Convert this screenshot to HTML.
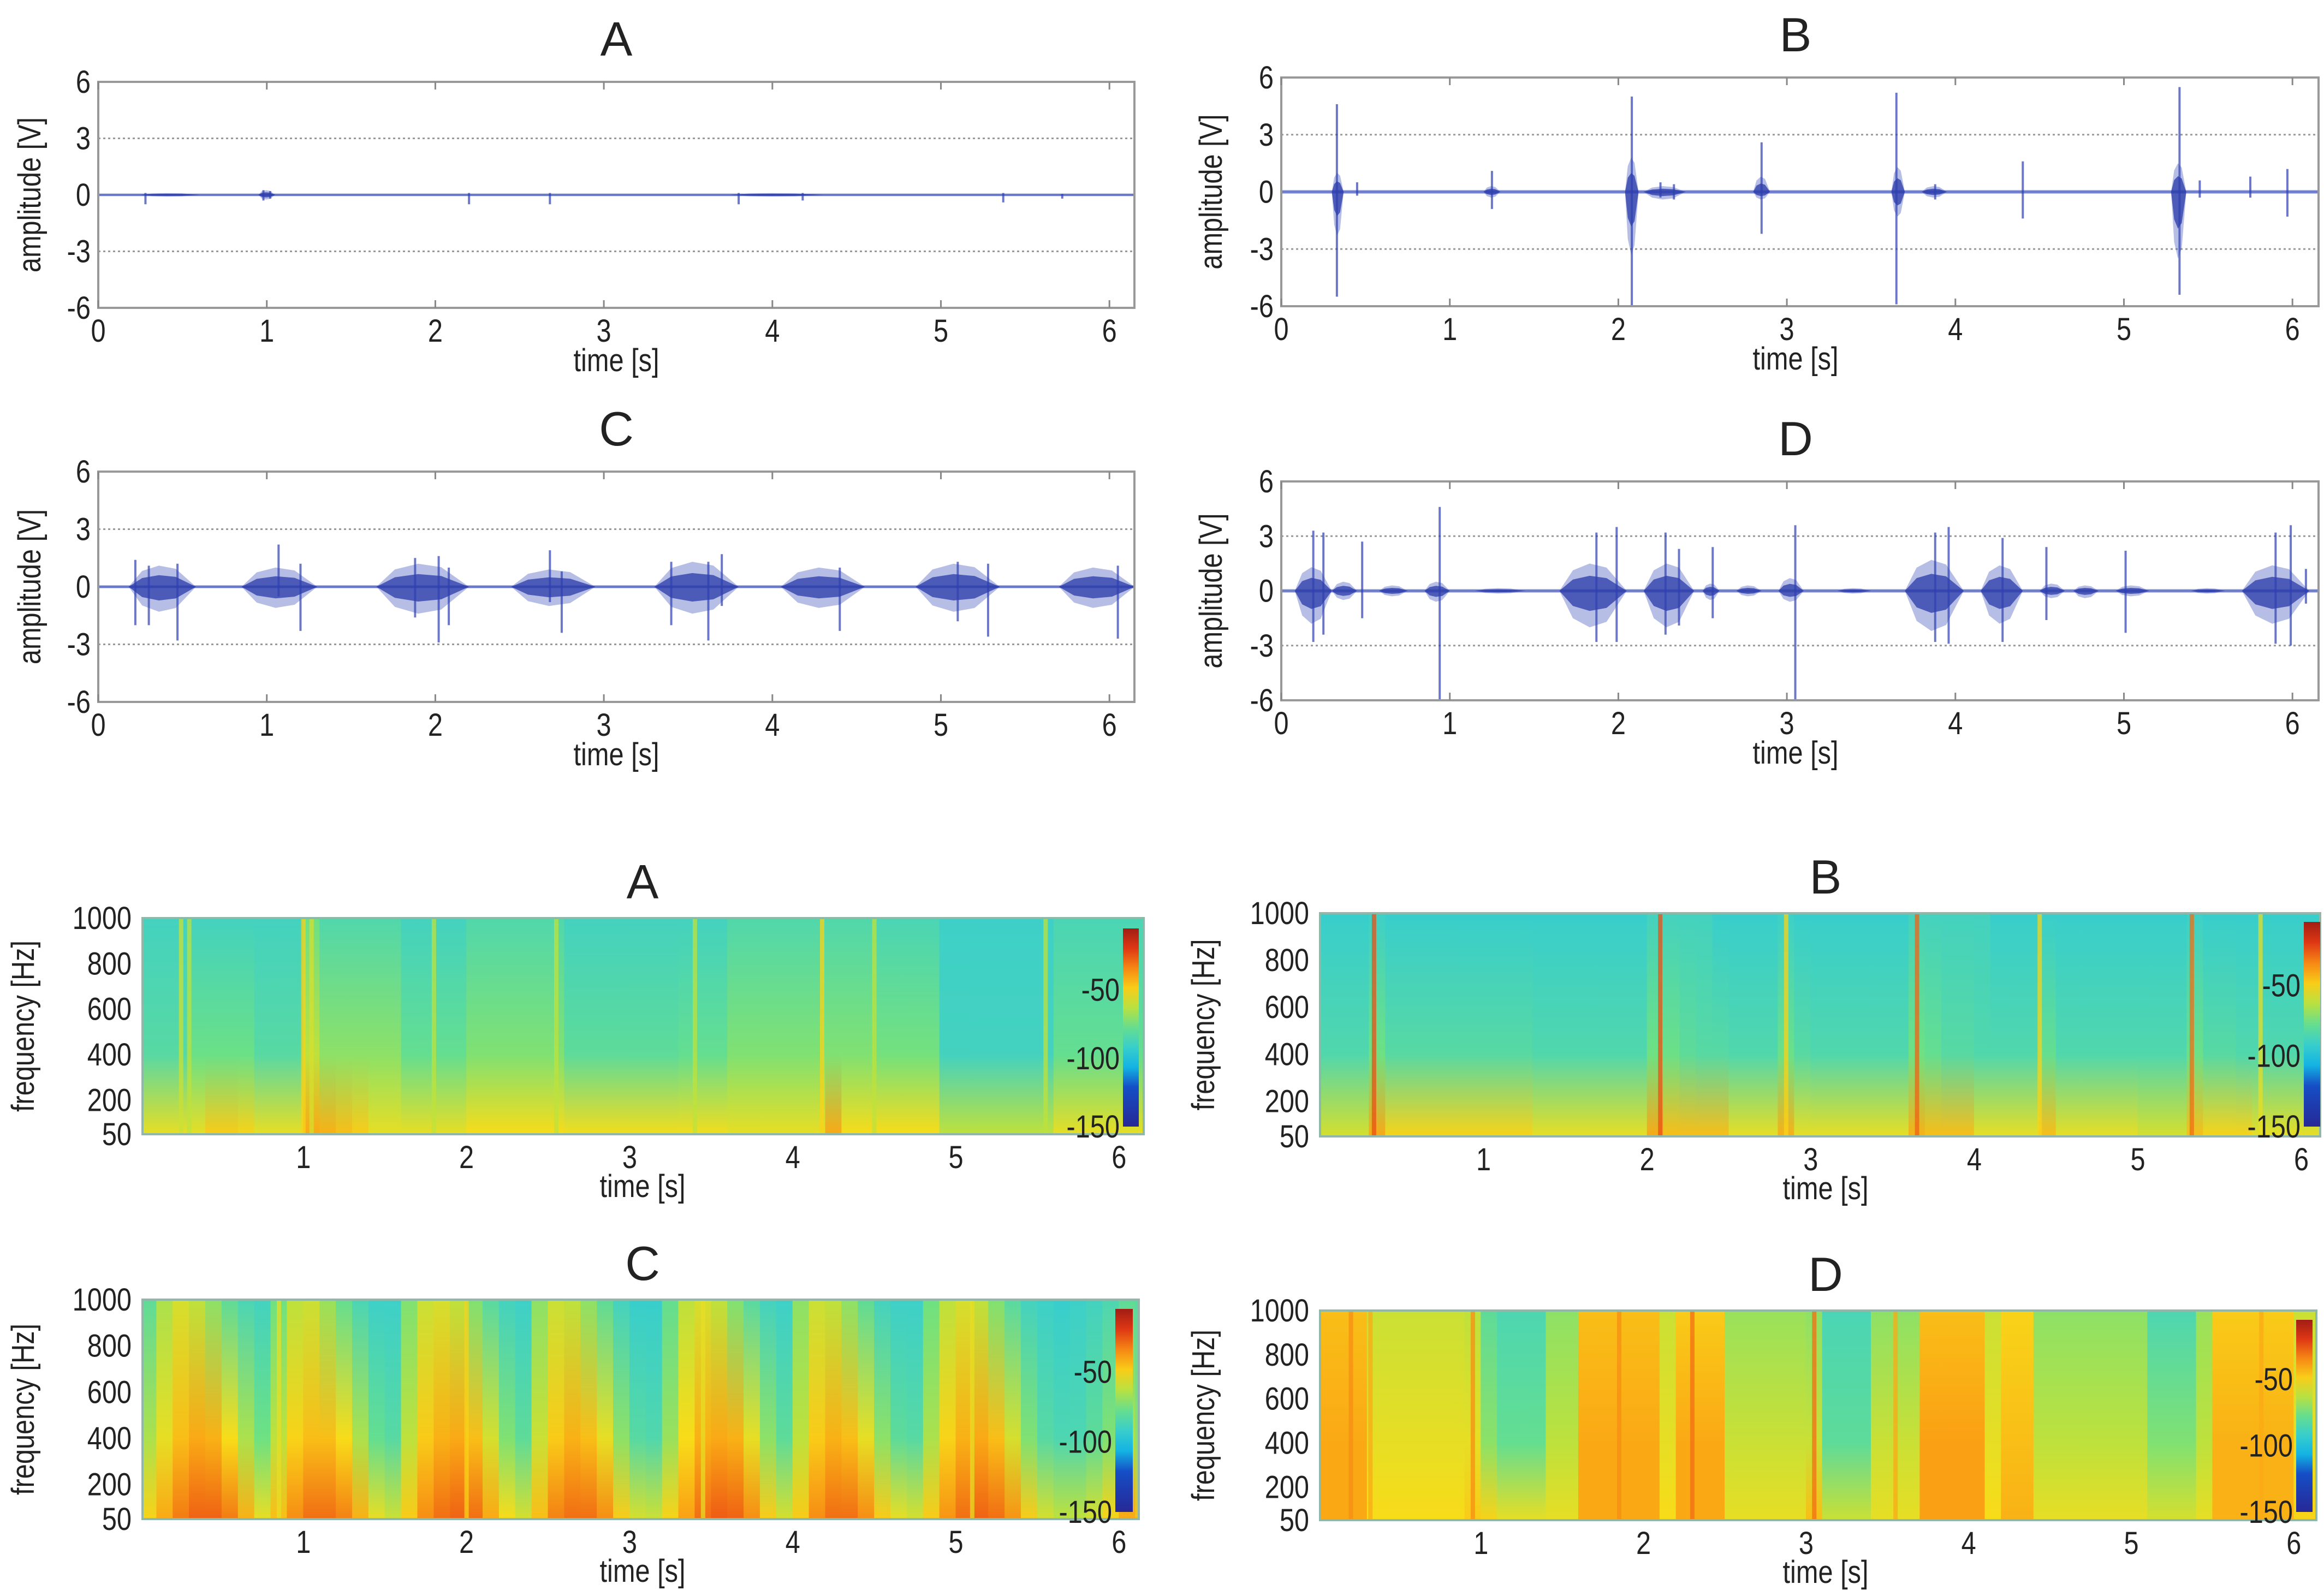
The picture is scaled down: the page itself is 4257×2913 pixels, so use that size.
<!DOCTYPE html>
<html><head><meta charset="utf-8"><style>
html,body{margin:0;padding:0;background:#fff;}
svg{display:block;}
text{font-family:"Liberation Sans",sans-serif;fill:#222;}
</style></head><body>
<svg id="fig" width="4257" height="2913" viewBox="0 0 4257 2913" xmlns="http://www.w3.org/2000/svg">
<defs id="defs"></defs>
</svg>
<script>
// ---------- waveform data: bursts [start,end,pos,neg], spikes [t,up,down] ----------
const waveTicksY = [6,3,0,-3,-6];
const waveTicksX = [0,1,2,3,4,5,6];
const burstsA = [[0,6.15,0.07,-0.07],[0.95,1.05,0.25,-0.25],[0.25,0.6,0.1,-0.1],[3.75,4.3,0.1,-0.1]];
const spikesA = [[0.28,0.1,-0.5],[0.98,0.25,-0.3],[1.02,0.2,-0.2],[2.2,0.1,-0.5],[2.68,0.1,-0.5],[3.8,0.1,-0.5],[4.18,0.1,-0.3],[5.37,0.1,-0.4],[5.72,0.05,-0.2]];
const burstsB = [[0,6.15,0.1,-0.1],[0.3,0.37,1.0,-2.3],[2.04,2.12,1.8,-3.3],[2.15,2.4,0.3,-0.4],[2.8,2.9,0.8,-0.4],[3.62,3.7,1.3,-1.3],[3.8,3.95,0.3,-0.3],[5.28,5.37,1.5,-3.5],[1.2,1.3,0.3,-0.3]];
const spikesB = [[0.33,4.6,-5.5],[0.45,0.5,-0.2],[1.25,1.1,-0.9],[2.08,5.0,-6.0],[2.25,0.5,-0.3],[2.33,0.4,-0.4],[2.85,2.6,-2.2],[3.65,5.2,-5.9],[3.88,0.4,-0.4],[4.4,1.6,-1.4],[5.33,5.5,-5.4],[5.45,0.6,-0.3],[5.75,0.8,-0.3],[5.97,1.2,-1.3]];
const burstsC = [[0,6.15,0.08,-0.08],[0.18,0.58,1.1,-1.3],[0.85,1.3,1.0,-1.1],[1.65,2.2,1.2,-1.4],[2.45,2.95,0.9,-1.0],[3.3,3.8,1.3,-1.4],[4.05,4.55,1.0,-1.1],[4.85,5.35,1.2,-1.3],[5.7,6.15,1.0,-1.1]];
const spikesC = [[0.22,1.4,-2.0],[0.3,1.1,-2.0],[0.47,1.2,-2.8],[1.07,2.2,-0.5],[1.2,1.2,-2.3],[1.88,1.5,-1.6],[2.02,1.6,-2.9],[2.08,1.0,-2.0],[2.68,1.9,-0.8],[2.75,0.8,-2.4],[3.4,1.3,-2.0],[3.62,1.3,-2.8],[3.7,1.7,-1.0],[4.4,1.0,-2.3],[5.1,1.3,-1.8],[5.28,1.2,-2.6],[6.05,1.1,-2.7]];
const burstsD = [[0,6.15,0.1,-0.1],[0.08,0.3,1.3,-1.8],[0.3,0.45,0.5,-0.5],[0.58,0.75,0.3,-0.3],[0.85,1.0,0.5,-0.6],[1.15,1.45,0.15,-0.15],[1.65,2.05,1.5,-2.0],[2.15,2.45,1.5,-2.0],[2.5,2.6,0.4,-0.5],[2.7,2.85,0.3,-0.3],[2.95,3.1,0.7,-0.6],[3.3,3.5,0.15,-0.15],[3.7,4.05,1.7,-2.2],[4.15,4.4,1.4,-1.8],[4.5,4.65,0.4,-0.4],[4.7,4.85,0.3,-0.4],[4.95,5.15,0.3,-0.3],[5.4,5.6,0.15,-0.15],[5.7,6.1,1.4,-1.8]];
const spikesD = [[0.19,3.3,-2.8],[0.25,3.2,-2.4],[0.48,2.7,-1.5],[0.94,4.6,-6.0],[1.87,3.2,-2.8],[1.99,3.5,-2.8],[2.28,3.2,-2.4],[2.36,2.3,-1.9],[2.56,2.4,-1.5],[3.05,3.6,-6.0],[3.88,3.2,-2.8],[3.96,3.5,-2.9],[4.28,2.9,-2.8],[4.54,2.4,-1.6],[5.01,2.2,-2.3],[5.90,3.2,-2.9],[5.99,3.6,-3.0],[6.08,1.2,-0.7]];

// ---------- spectrogram data: per 0.1 s column, dB at 50 Hz (lo), 400 Hz (mid), 1000 Hz (hi) ----------
const specTicksY = [1000,800,600,400,200,50];
const specTicksX = [1,2,3,4,5,6];
const cbTicks = [-50,-100,-150];
const loA = [-55,-55,-55,-55,-48,-48,-50,-55,-55,-55,-40,-42,-45,-48,-55,-55,-55,-55,-55,-55,-52,-52,-52,-52,-52,-52,-53,-53,-53,-53,-53,-53,-53,-53,-53,-53,-55,-55,-55,-55,-55,-55,-40,-52,-52,-52,-52,-52,-52,-62,-62,-62,-62,-62,-62,-62,-55,-55,-55,-55,-55,-55];
const midA = [-82,-82,-82,-76,-76,-76,-76,-82,-82,-82,-62,-70,-70,-70,-70,-70,-78,-78,-78,-78,-72,-72,-72,-72,-72,-72,-80,-80,-80,-80,-80,-80,-80,-78,-78,-78,-72,-72,-72,-72,-72,-72,-72,-72,-72,-74,-74,-74,-74,-88,-88,-88,-88,-88,-88,-88,-78,-78,-78,-78,-78,-78];
const hiA = [-88,-88,-88,-88,-88,-88,-88,-88,-88,-88,-76,-84,-84,-84,-84,-84,-88,-88,-88,-88,-84,-84,-84,-84,-84,-84,-88,-88,-88,-88,-88,-88,-88,-88,-88,-88,-84,-84,-84,-84,-84,-84,-84,-84,-84,-86,-86,-86,-86,-90,-90,-90,-90,-90,-90,-90,-86,-86,-86,-86,-86,-86];
const loB = [-58,-58,-58,-40,-50,-50,-50,-50,-50,-50,-50,-50,-50,-55,-55,-55,-55,-55,-55,-55,-40,-45,-45,-45,-45,-55,-55,-55,-42,-55,-55,-55,-55,-55,-55,-55,-42,-45,-45,-45,-55,-55,-55,-55,-45,-55,-55,-55,-55,-55,-58,-58,-58,-45,-50,-50,-50,-55,-55,-55,-55,-55];
const midB = [-84,-84,-84,-75,-82,-82,-82,-82,-82,-82,-82,-82,-82,-84,-84,-84,-84,-84,-84,-84,-75,-76,-80,-82,-82,-84,-84,-84,-76,-82,-84,-84,-84,-84,-84,-84,-75,-78,-82,-82,-84,-84,-84,-84,-78,-84,-84,-84,-84,-84,-84,-84,-84,-76,-82,-82,-84,-84,-84,-84,-84,-84];
const hiB = [-92,-92,-92,-90,-92,-92,-92,-92,-92,-92,-92,-92,-92,-92,-92,-92,-92,-92,-92,-92,-88,-88,-88,-88,-92,-92,-92,-92,-90,-92,-92,-92,-92,-92,-92,-92,-88,-88,-88,-88,-88,-92,-92,-92,-92,-92,-92,-92,-92,-92,-92,-92,-92,-90,-92,-92,-92,-92,-92,-92,-92,-92];
const loC = [-50,-40,-32,-28,-28,-32,-42,-55,-45,-35,-30,-30,-33,-42,-55,-60,-48,-35,-30,-28,-30,-40,-52,-58,-45,-33,-30,-30,-35,-48,-58,-60,-50,-38,-30,-27,-28,-35,-48,-58,-48,-35,-30,-30,-35,-48,-55,-58,-48,-36,-30,-28,-30,-36,-48,-58,-62,-62,-58,-50,-40,-45];
const midC = [-65,-55,-45,-40,-42,-52,-65,-75,-62,-50,-45,-45,-52,-65,-78,-82,-62,-48,-42,-40,-45,-58,-72,-80,-60,-48,-42,-45,-55,-70,-82,-84,-68,-52,-42,-40,-42,-55,-70,-80,-62,-48,-42,-45,-55,-70,-80,-82,-65,-50,-42,-40,-45,-58,-72,-82,-85,-85,-80,-72,-65,-70];
const hiC = [-80,-65,-58,-62,-70,-80,-86,-88,-75,-62,-60,-68,-78,-86,-90,-90,-72,-60,-58,-62,-72,-82,-88,-90,-70,-60,-62,-70,-80,-88,-92,-92,-78,-62,-58,-62,-72,-82,-88,-90,-70,-60,-62,-70,-80,-88,-90,-90,-75,-62,-58,-62,-72,-82,-88,-90,-92,-90,-88,-85,-80,-82];
const loD = [-40,-40,-40,-52,-52,-52,-52,-52,-52,-48,-50,-55,-55,-55,-55,-55,-40,-40,-40,-40,-40,-52,-40,-40,-40,-55,-55,-55,-55,-55,-45,-60,-60,-60,-55,-55,-55,-38,-38,-38,-38,-52,-42,-42,-55,-55,-55,-55,-55,-55,-55,-58,-58,-58,-55,-42,-42,-42,-42,-42,-50,-50];
const midD = [-40,-40,-40,-55,-55,-55,-55,-55,-55,-55,-70,-78,-78,-78,-62,-62,-40,-40,-40,-40,-40,-55,-40,-40,-40,-60,-60,-60,-60,-60,-60,-80,-80,-80,-60,-60,-60,-38,-38,-38,-38,-55,-45,-45,-62,-62,-62,-62,-62,-62,-62,-72,-72,-72,-62,-42,-42,-42,-42,-42,-55,-55];
const hiD = [-45,-45,-45,-60,-60,-60,-60,-60,-60,-62,-80,-85,-85,-85,-70,-70,-45,-45,-45,-45,-45,-60,-48,-48,-48,-68,-68,-68,-68,-68,-70,-86,-86,-86,-70,-70,-70,-45,-45,-45,-45,-60,-50,-50,-70,-70,-70,-70,-70,-70,-70,-85,-85,-85,-68,-48,-48,-48,-48,-48,-60,-60];
const streaksA = [[0.25,-60],[0.3,-62],[1.0,-50],[1.05,-58],[1.8,-62],[2.55,-62],[3.4,-62],[4.18,-50],[4.5,-62],[5.55,-62]];
const streaksB = [[0.33,-25],[2.08,-25],[3.65,-28],[5.33,-30],[2.85,-50],[4.4,-50],[5.75,-55]];
const streaksC = [[0.85,-55],[2.0,-50],[3.45,-55],[5.1,-55]];
const streaksD = [[0.2,-35],[0.32,-40],[0.95,-35],[1.85,-35],[2.3,-30],[3.05,-30],[3.55,-40],[5.8,-40]];

const NS = 'http://www.w3.org/2000/svg';
const svg = document.getElementById('fig');
const defs = document.getElementById('defs');
function mk(tag, attrs, parent){
  const e = document.createElementNS(NS, tag);
  for (const k in attrs) e.setAttribute(k, attrs[k]);
  (parent||svg).appendChild(e);
  return e;
}
function txt(s, x, y, size, anchor, parent, rot){
  const tr = 'translate('+x+' '+y+')' + (rot ? ' rotate('+rot+')' : '') + ' scale(0.84 1)';
  const e = mk('text', {x:0, y:0, 'font-size':size, 'text-anchor':anchor||'middle', transform:tr}, parent);
  e.textContent = s;
  return e;
}
function title(s, x, y, parent){
  const e = mk('text', {x:x, y:y, 'font-size':88, 'text-anchor':'middle'}, parent);
  e.textContent = s;
  return e;
}
const cstops = [[-150,[40,40,150]],[-120,[20,80,200]],[-105,[20,190,230]],[-90,[62,208,200]],[-75,[110,225,130]],[-62,[190,225,60]],[-52,[248,220,25]],[-38,[250,160,20]],[-22,[232,60,20]],[0,[140,20,20]]];
function cmap(v){
  if (v<=cstops[0][0]) return 'rgb('+cstops[0][1].join(',')+')';
  for (let i=1;i<cstops.length;i++){
    if (v<=cstops[i][0]){
      const a=cstops[i-1], b=cstops[i], f=(v-a[0])/(b[0]-a[0]);
      return 'rgb('+a[1].map((c,j)=>Math.round(c+(b[1][j]-c)*f)).join(',')+')';
    }
  }
  return 'rgb('+cstops[cstops.length-1][1].join(',')+')';
}

function spindle(xs, ys, b, k){
  const w = b[1]-b[0];
  const pts = [[b[0],0],[b[0]+0.2*w,b[2]*0.75*k],[b[0]+0.45*w,b[2]*k],[b[0]+0.7*w,b[2]*0.85*k],[b[1],0],
               [b[0]+0.7*w,b[3]*0.85*k],[b[0]+0.45*w,b[3]*k],[b[0]+0.2*w,b[3]*0.75*k]];
  return pts.map(p=>xs(p[0]).toFixed(1)+','+ys(p[1]).toFixed(1)).join(' ');
}

function wavePanel(cfg, bursts, spikes){
  const g = mk('g', {});
  
  
  const xs = t => cfg.x0 + t*cfg.pps;
  const ys = v => cfg.y0 - v*(cfg.B-cfg.T)/12;
  const t1 = title(cfg.title, cfg.tx, cfg.T-48, g);
  
  
  for (const v of [3,-3]){
    const gl = mk('line', {x1:cfg.L, x2:cfg.R, y1:ys(v), y2:ys(v), stroke:'#999', 'stroke-width':3, 'stroke-dasharray':'4 5'}, g);
    
    
  }
  const bl = mk('line', {x1:cfg.L, x2:cfg.R, y1:ys(0), y2:ys(0), stroke:'#8090d0', 'stroke-width':4}, g);
  
  
  for (const b of bursts){
    if (b[1]-b[0] > 3){
      const r = mk('rect', {x:xs(b[0]), width:xs(b[1])-xs(b[0]), y:ys(b[2]), height:ys(b[3])-ys(b[2]), fill:'#5060c0', opacity:0.45}, g);
      
      
      continue;
    }
    const p = mk('polygon', {points:spindle(xs, ys, b, 1), fill:'#4a5cc0', opacity:0.4}, g);
    
    
    const p2 = mk('polygon', {points:spindle(xs, ys, b, 0.55), fill:'#2a3aa8', opacity:0.75}, g);
    
    
  }
  for (const s of spikes){
    const l = mk('line', {x1:xs(s[0]), x2:xs(s[0]), y1:ys(Math.min(6,s[1])), y2:ys(Math.max(-6,s[2])), stroke:'#2e40b0', 'stroke-width':4, opacity:0.7}, g);
    
    
  }
  const fr = mk('rect', {x:cfg.L, y:cfg.T, width:cfg.R-cfg.L, height:cfg.B-cfg.T, fill:'none', stroke:'#999', 'stroke-width':4}, g);
  
  
  for (const t of waveTicksX){
    const x = xs(t);
    mk('line', {x1:x, x2:x, y1:cfg.B, y2:cfg.B-14, stroke:'#888', 'stroke-width':3}, g);
    mk('line', {x1:x, x2:x, y1:cfg.T, y2:cfg.T+14, stroke:'#888', 'stroke-width':3}, g);
    const tl = txt(String(t), x, cfg.B+62, 58, 'middle', g);
    
    
  }
  for (const v of waveTicksY){
    const tl = txt(String(v), cfg.L-14, ys(v)+20, 58, 'end', g);
    
    
  }
  const xl = txt('time [s]', cfg.tx, cfg.B+116, 58, 'middle', g);
  
  
  const yc = (cfg.T+cfg.B)/2;
  const yl = txt('amplitude [V]', cfg.ylx, yc, 58, 'middle', g, -90);
  
  
}
wavePanel({name:'waveform-a', title:'A', L:180, R:2078, T:150, B:564, x0:180, pps:308.7, y0:357, tx:1129, ylx:74}, burstsA, spikesA);
wavePanel({name:'waveform-b', title:'B', L:2347, R:4247, T:142, B:561, x0:2347, pps:308.7, y0:351.5, tx:3289, ylx:2238}, burstsB, spikesB);
wavePanel({name:'waveform-c', title:'C', L:180, R:2078, T:864, B:1286, x0:180, pps:308.7, y0:1075, tx:1129, ylx:74}, burstsC, spikesC);
wavePanel({name:'waveform-d', title:'D', L:2347, R:4247, T:882, B:1283, x0:2347, pps:308.7, y0:1082.5, tx:3289, ylx:2238}, burstsD, spikesD);

let gid = 0;
function specPanel(cfg, lo, mid, hi, streaks){
  const g = mk('g', {});
  
  
  const xs = t => cfg.x0 + t*cfg.pps;
  const ys = f => cfg.B - (f-50)/950*(cfg.B-cfg.T);
  const clipId = 'clip'+cfg.name;
  const cp = mk('clipPath', {id:clipId}, defs);
  mk('rect', {x:cfg.L, y:cfg.T, width:cfg.R-cfg.L, height:cfg.B-cfg.T}, cp);
  const inner = mk('g', {'clip-path':'url(#'+clipId+')'}, g);
  const midOff = ((1000-400)/950*100).toFixed(1)+'%';
  for (let i=0;i<lo.length;i++){
    const id = 'sg'+(gid++);
    const lg = mk('linearGradient', {id:id, x1:0, y1:0, x2:0, y2:1}, defs);
    mk('stop', {offset:'0%', 'stop-color':cmap(hi[i])}, lg);
    mk('stop', {offset:midOff, 'stop-color':cmap(mid[i])}, lg);
    mk('stop', {offset:'100%', 'stop-color':cmap(lo[i])}, lg);
    const c = mk('rect', {x:xs(i*0.1)-0.5, y:cfg.T, width:0.1*cfg.pps+1, height:cfg.B-cfg.T, fill:'url(#'+id+')'}, inner);
    
    
  }
  for (const s of streaks){
    const r = mk('rect', {x:xs(s[0])-4, y:cfg.T, width:8, height:cfg.B-cfg.T, fill:cmap(s[1]), opacity:0.75}, inner);
    
    
  }
  const fr = mk('rect', {x:cfg.L, y:cfg.T, width:cfg.R-cfg.L, height:cfg.B-cfg.T, fill:'none', stroke:'#8fb8a8', 'stroke-width':4}, g);
  
  
  const cid = 'cb'+cfg.name;
  const cg = mk('linearGradient', {id:cid, x1:0, y1:1, x2:0, y2:0}, defs);
  for (let k=0;k<=10;k++){
    const v = -150 + k*14.5;
    mk('stop', {offset:(k*10)+'%', 'stop-color':cmap(v)}, cg);
  }
  const cb = mk('rect', {x:cfg.cbL, y:cfg.cbT, width:cfg.cbW, height:cfg.cbB-cfg.cbT, fill:'url(#'+cid+')'}, g);
  
  
  const cys = v => cfg.cbB - (v+150)/145*(cfg.cbB-cfg.cbT);
  for (const v of cbTicks){
    const tl = txt(String(v), cfg.cbL-6, cys(v)+20, 58, 'end', g);
    
    
  }
  for (const t of specTicksX){
    const tl = txt(String(t), xs(t), cfg.B+62, 58, 'middle', g);
    
    
  }
  for (const f of specTicksY){
    const tl = txt(String(f), cfg.L-20, ys(f)+20, 58, 'end', g);
    
    
  }
  const t1 = title(cfg.title, cfg.tx, cfg.T-36, g);
  
  
  const xl = txt('time [s]', cfg.tx, cfg.B+115, 58, 'middle', g);
  
  
  const yc = (cfg.T+cfg.B)/2;
  const yl = txt('frequency [Hz]', cfg.ylx, yc, 58, 'middle', g, -90);
  
  
}
specPanel({name:'spectrogram-a', title:'A', L:261, R:2095, T:1682, B:2078, x0:257, pps:298.8, tx:1177, ylx:62, cbL:2057, cbW:29, cbT:1701, cbB:2064}, loA, midA, hiA, streaksA);
specPanel({name:'spectrogram-b', title:'B', L:2418, R:4250, T:1673, B:2082, x0:2418, pps:299.6, tx:3344, ylx:2224, cbL:4220, cbW:30, cbT:1689, cbB:2064}, loB, midB, hiB, streaksB);
specPanel({name:'spectrogram-c', title:'C', L:261, R:2086, T:2381, B:2783, x0:257, pps:298.8, tx:1177, ylx:62, cbL:2043, cbW:32, cbT:2398, cbB:2770}, loC, midC, hiC, streaksC);
specPanel({name:'spectrogram-d', title:'D', L:2418, R:4243, T:2401, B:2785, x0:2415, pps:297.8, tx:3344, ylx:2224, cbL:4206, cbW:30, cbT:2418, cbB:2770}, loD, midD, hiD, streaksD);
</script>
</body></html>
